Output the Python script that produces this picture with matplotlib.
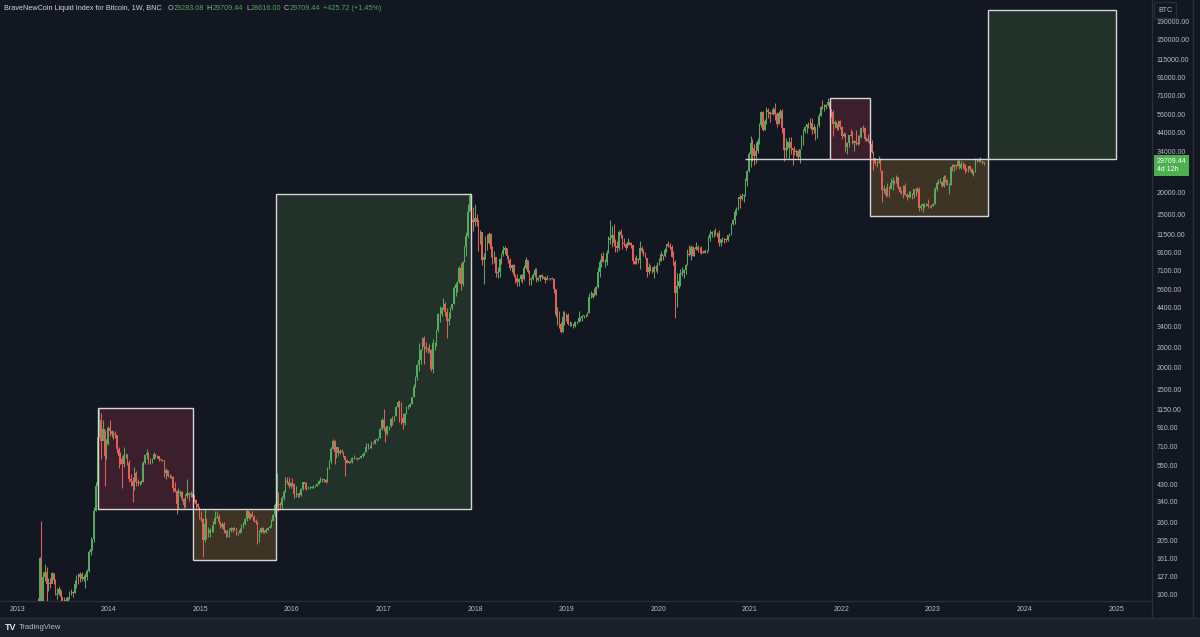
import numpy as np
import pandas as pd
import matplotlib
matplotlib.use('Agg')
import matplotlib.pyplot as plt
import matplotlib.dates as mdates
import matplotlib.transforms as mtransforms
from matplotlib.patches import Rectangle
from matplotlib.lines import Line2D
from matplotlib.ticker import NullLocator, NullFormatter

plt.rcParams['font.family'] = ['Liberation Sans', 'DejaVu Sans']

# weekly candles (close, high, low), one bar per week starting on Monday
open_first = 72

start2013 = '2013-03-25'
c2013 = [93, 162, 90, 127, 135, 115, 117, 115, 133, 122, 100, 101, 108, 97, 77, 94, 91, 97, 104, 104, 102,
         116, 129, 127, 132, 124, 126, 126, 137, 175, 182, 208, 300, 420, 800, 1000, 760, 890, 620, 730, 900]
h2013 = [96, 165, 266, 135, 150, 145, 125, 125, 135, 133, 123, 110, 112, 107, 97, 98, 98, 98, 106, 108, 106,
         122, 130, 133, 135, 135, 130, 134, 140, 180, 215, 210, 320, 440, 900, 1163, 1100, 1000, 880, 780, 920]
l2013 = [70, 93, 62, 68, 120, 85, 105, 110, 118, 115, 100, 95, 100, 90, 70, 66, 88, 88, 95, 100, 98,
         102, 110, 115, 118, 120, 120, 110, 122, 135, 170, 180, 200, 300, 420, 800, 600, 780, 420, 600, 720]

start2014 = '2014-01-06'
c2014 = [870, 830, 830, 820, 680, 620, 600, 560, 630, 630, 565, 460, 450, 420, 500, 440, 435, 440, 445, 570,
         630, 650, 590, 595, 600, 635, 620, 625, 595, 590, 590, 500, 515, 480, 480, 475, 410, 395, 330, 385,
         390, 355, 325, 370, 385, 375, 378, 375, 350, 330, 320, 275]
h2014 = [1000, 880, 870, 870, 820, 700, 660, 620, 700, 650, 640, 590, 490, 470, 540, 510, 460, 450, 455, 580,
         630, 680, 660, 610, 610, 655, 640, 630, 625, 600, 600, 590, 530, 520, 490, 485, 480, 440, 400, 410,
         400, 395, 360, 380, 460, 390, 395, 385, 360, 355, 335, 320]
l2014 = [810, 800, 780, 790, 650, 530, 560, 410, 540, 610, 550, 440, 420, 340, 400, 420, 420, 425, 430, 440,
         560, 600, 560, 560, 570, 600, 610, 610, 580, 580, 580, 470, 460, 470, 465, 465, 390, 390, 290, 310,
         370, 345, 315, 320, 360, 345, 365, 365, 340, 310, 315, 270]

start2015 = '2015-01-05'
c2015 = [270, 205, 255, 225, 225, 235, 235, 255, 275, 280, 260, 245, 255, 235, 225, 225, 235, 240, 235, 240,
         225, 225, 235, 245, 255, 270, 300, 275, 290, 280, 265, 260, 230, 230, 240, 230, 230, 235, 240, 245,
         265, 285, 325, 375, 330, 325, 360, 390, 450, 440, 420, 435]
h2015 = [300, 275, 310, 275, 245, 240, 250, 265, 300, 300, 290, 260, 260, 260, 235, 235, 240, 245, 245, 245,
         240, 230, 240, 255, 260, 275, 310, 300, 295, 300, 285, 270, 265, 235, 245, 245, 235, 240, 245, 250,
         270, 290, 335, 500, 390, 340, 370, 400, 470, 470, 470, 440]
l2015 = [265, 165, 200, 210, 215, 215, 230, 230, 255, 275, 255, 240, 240, 225, 215, 215, 215, 230, 230, 235,
         220, 220, 225, 230, 240, 250, 265, 270, 270, 280, 260, 255, 195, 200, 225, 225, 225, 225, 235, 240,
         245, 265, 280, 320, 300, 310, 315, 350, 390, 430, 410, 410]

start2016 = '2016-01-04'
c2016 = [430, 380, 380, 375, 375, 405, 440, 430, 410, 410, 410, 415, 420, 420, 430, 450, 450, 460, 455, 445,
         530, 585, 680, 760, 655, 700, 650, 665, 655, 625, 590, 570, 580, 575, 610, 610, 605, 600, 610, 620,
         640, 655, 700, 705, 700, 740, 735, 765, 775, 790, 890, 1000]
h2016 = [465, 435, 420, 385, 390, 410, 445, 440, 440, 420, 420, 420, 425, 425, 435, 455, 470, 465, 460, 460,
         540, 590, 700, 780, 770, 705, 705, 680, 680, 660, 625, 600, 585, 585, 615, 630, 615, 610, 615, 625,
         645, 660, 740, 740, 720, 755, 745, 775, 780, 795, 900, 1030]
l2016 = [420, 360, 365, 365, 365, 370, 400, 405, 400, 405, 405, 410, 410, 415, 420, 430, 440, 440, 445, 435,
         440, 525, 570, 680, 560, 610, 620, 640, 645, 615, 480, 565, 565, 565, 570, 600, 600, 590, 595, 605,
         615, 630, 655, 680, 695, 695, 725, 725, 755, 770, 790, 880]

start2017 = '2017-01-02'
c2017 = [905, 830, 920, 920, 1010, 1000, 1050, 1190, 1270, 1230, 1020, 960, 1080, 1180, 1180, 1240, 1350,
         1550, 1760, 2050, 2200, 2500, 2950, 2600, 2550, 2500, 2500, 1950, 2750, 2750, 3250, 4050, 4050, 4350,
         4580, 4120, 3680, 3790, 4380, 4600, 5670, 6000, 6150, 7400, 5950, 8000, 9700, 11300, 15500, 19000,
         13800, 13500]
h2017 = [1150, 910, 925, 925, 1020, 1060, 1055, 1200, 1290, 1300, 1260, 1100, 1100, 1200, 1210, 1250, 1355,
         1600, 1780, 2100, 2750, 2550, 2980, 3000, 2780, 2600, 2700, 2540, 2920, 2800, 3300, 4100, 4480, 4400,
         4950, 4700, 4350, 4120, 4400, 4620, 5850, 6150, 6200, 7600, 7900, 8100, 9800, 11800, 17200, 19700,
         19200, 16500]
l2017 = [870, 750, 820, 880, 915, 940, 990, 1050, 1180, 980, 950, 890, 930, 1080, 1150, 1180, 1240,
         1350, 1550, 1700, 1900, 2100, 2500, 2100, 2450, 2400, 2450, 1900, 1850, 2500, 2650, 3200, 3650, 3950,
         4300, 3950, 2950, 3500, 3830, 4250, 4600, 5100, 5400, 6100, 5500, 5850, 7950, 8700, 11000, 15800,
         11000, 12000]

start2018 = '2018-01-01'
c2018 = [14200, 13600, 11500, 11800, 8200, 8500, 11100, 10300, 11500, 9500, 8200, 8500, 6900, 7000, 8300,
         8900, 9400, 9600, 8700, 8200, 7400, 7700, 6750, 6450, 6150, 6350, 6750, 6350, 7400, 8200, 7000, 6300,
         6400, 6700, 7200, 6300, 6500, 6700, 6600, 6600, 6300, 6450, 6450, 6450, 6400, 5600, 4000, 4050, 3550,
         3200, 3900, 3850, 4000]
h2018 = [17200, 15000, 14100, 12200, 11800, 9000, 11300, 11600, 11800, 11700, 9800, 9200, 8500, 7500, 8400,
         9000, 9800, 9900, 9600, 8800, 8400, 7800, 7800, 6850, 6800, 6500, 6850, 6800, 7700, 8500, 8200, 7150,
         6600, 6900, 7400, 7400, 6600, 6700, 6800, 6650, 6650, 6700, 6500, 6500, 6600, 6450, 5600, 4400, 4200,
         3650, 4200, 4200, 4100]
l2018 = [12800, 12800, 9200, 10100, 7700, 6000, 8300, 9300, 10100, 8500, 7800, 7900, 6600, 6500, 6600,
         7800, 8600, 8900, 8300, 7900, 7200, 7050, 6600, 6100, 5800, 5800, 6250, 6080, 6300, 7300, 6900, 5900,
         5900, 6300, 6600, 6150, 6200, 6250, 6400, 6500, 6100, 6300, 6400, 6300, 6350, 5300, 3900, 3500, 3350,
         3150, 3200, 3500, 3700]

start2019 = '2019-01-07'
c2019 = [3550, 3550, 3550, 3450, 3650, 3650, 3850, 3850, 3950, 4000, 3980, 4100, 5050, 5050, 5300, 5200,
         5750, 7000, 8000, 8700, 8000, 8000, 8950, 10700, 11000, 11450, 10200, 9800, 9550, 11800, 11350, 10200,
         10100, 9650, 10400, 10300, 10000, 8050, 7800, 8300, 8200, 9550, 9200, 8800, 8450, 7050, 7500, 7400,
         7050, 7500, 7400, 7750]
h2019 = [4100, 3700, 3650, 3550, 3700, 3700, 4200, 3900, 4000, 4000, 4050, 4150, 5300, 5450, 5350, 5650,
         5800, 7500, 8300, 8950, 9100, 8300, 9350, 11300, 13800, 12900, 13150, 10800, 10600, 12100, 12300, 11450,
         10950, 10300, 10950, 10450, 10350, 10050, 8550, 8750, 8400, 10500, 9900, 9500, 9100, 8450, 7900, 7650,
         7450, 7700, 7650, 8000]
l2019 = [3500, 3450, 3450, 3350, 3400, 3550, 3650, 3700, 3700, 3850, 3900, 3950, 4100, 4950, 5000, 5100,
         5200, 5700, 6600, 7500, 8000, 7450, 7700, 8950, 10100, 9750, 9900, 9100, 9150, 9400, 11000, 9500,
         9800, 9350, 10000, 9950, 9650, 7750, 7750, 7800, 7900, 7300, 8950, 8700, 8400, 6550, 6850, 7100,
         6950, 6450, 7100, 6900]

start2020 = '2020-01-06'
c2020 = [8150, 8900, 8600, 9350, 10100, 9900, 9700, 8550, 7950, 5350, 5850, 6250, 6850, 6900, 7150, 7700,
         8900, 8750, 9700, 8700, 9450, 9700, 9350, 9300, 9100, 9050, 9250, 9200, 11000, 11600, 11900, 11900,
         11700, 11700, 10250, 10800, 10900, 10750, 10650, 11350, 11500, 13100, 13800, 15500, 16100, 18700,
         18200, 19150, 19300, 23200, 26450, 33100]
h2020 = [8450, 9200, 8750, 9550, 10150, 10500, 10250, 9950, 9200, 8200, 6950, 6950, 7250, 7450, 7300, 7800,
         9450, 10050, 9950, 9850, 9600, 10400, 9950, 9750, 9800, 9350, 9450, 9300, 11200, 12100, 12000, 12100,
         12450, 11800, 12100, 10800, 11150, 10950, 10900, 11450, 11750, 13350, 14100, 15950, 16500, 18800,
         19450, 19900, 19600, 24200, 26800, 34000]
l2020 = [7650, 8100, 8250, 8550, 9150, 9700, 9450, 8500, 7650, 3850, 4450, 5700, 5850, 6650, 6500, 6800,
         7650, 8700, 8250, 8650, 8650, 9350, 9100, 9000, 8850, 8950, 9050, 9050, 9200, 10600, 11100, 11100,
         11400, 11100, 9900, 9900, 10350, 10200, 10400, 10550, 11250, 11400, 12950, 13200, 14900, 15850,
         16200, 18100, 17600, 19000, 21800, 26100]

start2021 = '2021-01-04'
c2021 = [38200, 36000, 32300, 34300, 39200, 48600, 57500, 45200, 51000, 59000, 57400, 55800, 57000, 59800,
         56200, 49000, 56600, 58300, 46400, 34700, 35700, 35800, 39000, 35600, 34700, 34200, 34300, 31800,
         35400, 39800, 44700, 47100, 49400, 48900, 49900, 45200, 47300, 43200, 48200, 54700, 61500, 61000,
         61300, 63300, 65500, 59700, 57300, 49400, 50100, 46700, 50800, 47300]
h2021 = [42000, 40100, 37800, 38500, 40900, 49700, 58350, 58000, 52600, 61700, 61000, 58400, 60200, 61200,
         64800, 57500, 58500, 59500, 59600, 46000, 40900, 39500, 41300, 41300, 35700, 36700, 35200, 34700,
         35500, 42600, 46200, 48000, 49400, 50500, 52900, 52900, 48800, 47300, 49200, 56500, 62000, 67000,
         63700, 64300, 69000, 66300, 59500, 59000, 51900, 49500, 52100, 52000]
l2021 = [28000, 30300, 28800, 29300, 33400, 37950, 47000, 44900, 45100, 49300, 53300, 50400, 55700, 55500,
         52000, 47000, 48800, 52900, 43800, 30000, 31200, 34800, 31000, 33300, 28800, 32700, 32200, 31100,
         29300, 35200, 37300, 43800, 43900, 46300, 46600, 42800, 43400, 39600, 40800, 46900, 54300, 59700,
         58000, 59500, 62300, 55600, 53500, 42000, 46800, 45500, 45600, 45700]

start2022 = '2022-01-03'
c2022 = [41800, 43100, 36300, 38200, 42400, 42100, 38400, 39100, 38000, 37800, 41300, 46800, 46400, 40400,
         40400, 39500, 37600, 34100, 31300, 29500, 29400, 29900, 26600, 20600, 21000, 19300, 21000, 20800,
         22600, 23300, 23200, 24300, 21500, 20000, 19800, 21800, 19400, 18800, 19300, 19400, 19200, 20800,
         20600, 21000, 16300, 16600, 17100, 17100, 17100, 16800, 16800, 16600]
h2022 = [47600, 44400, 43500, 38900, 42600, 45800, 44800, 39800, 45400, 42600, 42300, 46900, 48200, 47100,
         41500, 43000, 40800, 40000, 34300, 31400, 30600, 32200, 31500, 26800, 21900, 21500, 22500, 21600,
         24200, 24500, 23600, 25200, 24400, 21800, 20500, 21900, 22600, 19700, 20300, 20400, 19700, 20800,
         21100, 21500, 21400, 17100, 17300, 17400, 17400, 18400, 17000, 16900]
l2022 = [40500, 41300, 34100, 32900, 36300, 41700, 37900, 34300, 37200, 37200, 37600, 40600, 44300, 39200,
         39200, 38500, 37600, 33700, 26700, 28700, 28000, 29300, 26500, 17600, 19700, 18700, 19000, 18900,
         20800, 20700, 22400, 22700, 20800, 19700, 19600, 18600, 19300, 18100, 18500, 18900, 18200, 18600,
         19100, 20000, 15600, 15800, 15500, 16200, 16700, 16300, 16400, 16300]

start2023 = '2023-01-02'
c2023 = [17100, 20900, 22700, 23000, 23000, 21800, 24300, 23500, 22000, 22100, 28000, 27900, 28500, 28300,
         30300, 27600, 29200, 28900, 26900, 26700, 28100, 27100, 25800, 26300, 30500, 30600, 30200, 30300,
         29283.08, 29709.44]
h2023 = [17400, 21300, 23300, 23900, 24200, 23200, 25200, 25100, 23900, 22600, 28400, 28900, 29200, 28800,
         31000, 30500, 30000, 29800, 29000, 27500, 28300, 28400, 27400, 26800, 31400, 31300, 31400, 31800,
         30400, 29709.44]
l2023 = [16600, 17200, 20400, 22300, 22700, 21400, 21500, 22900, 21900, 19600, 21900, 26600, 26500, 27300,
         28200, 27100, 27000, 27700, 25800, 26300, 26100, 26600, 25400, 24800, 26200, 29600, 29700, 29900,
         29100, 28616.00]

# header readout of the last bar
hdr_change = 425.72
hdr_pct = 1.45
time_left = '4d 12h'

# drawn boxes: start, end, low, high, kind
boxes = [
    ('2013-11-19', '2014-12-03', 309, 1170, 'red'),
    ('2014-12-03', '2015-11-01', 158.5, 309, 'orange'),
    ('2015-11-01', '2017-12-15', 309, 19500, 'green'),
    ('2021-11-16', '2022-04-24', 31000, 68900, 'red'),
    ('2022-04-24', '2023-08-07', 14600, 31000, 'orange'),
    ('2023-08-07', '2025-01-01', 31000, 220000, 'green'),
]
level_line = ('2020-12-13', '2021-11-16', 31000)

price_ticks = [190000, 150000, 115000, 91000, 71000, 56000, 44000, 34000, 20000, 15000, 11500, 9100, 7100,
               5600, 4400, 3400, 2600, 2000, 1500, 1150, 910, 710, 550, 430, 340, 260, 205, 161, 127, 100]
years = list(range(2013, 2026))

bg = '#131722'
up_col = '#58a85e'
down_col = '#e0605a'
txt_col = '#b8bbc4'
line_col = '#2a2e39'
fills = {'red': '#3b1f2c', 'orange': '#3e3426', 'green': '#22322a'}

# assemble candles
dates, closes, highs, lows = [], [], [], []
for start, c, h, l in [(start2013, c2013, h2013, l2013), (start2014, c2014, h2014, l2014),
                       (start2015, c2015, h2015, l2015), (start2016, c2016, h2016, l2016),
                       (start2017, c2017, h2017, l2017), (start2018, c2018, h2018, l2018),
                       (start2019, c2019, h2019, l2019), (start2020, c2020, h2020, l2020),
                       (start2021, c2021, h2021, l2021), (start2022, c2022, h2022, l2022),
                       (start2023, c2023, h2023, l2023)]:
    assert len(c) == len(h) == len(l), start
    dates += list(pd.date_range(start, periods=len(c), freq='7D'))
    closes += c
    highs += h
    lows += l
x = mdates.date2num(dates)
closes = np.array(closes, float)
highs = np.array(highs, float)
lows = np.array(lows, float)
opens = np.r_[open_first, closes[:-1]]
cols = np.where(closes >= opens, up_col, down_col)

W, H = 1200, 637
fig = plt.figure(figsize=(12, 6.37), dpi=100, facecolor=bg)
ax = fig.add_axes([0, 1 - 601 / H, 1152 / W, 601 / H])
ax.set_facecolor(bg)
ax.set_yscale('log')
ax.set_ylim(92.4, 251000)
ax.set_xlim(mdates.date2num(pd.Timestamp('2012-10-25')), mdates.date2num(pd.Timestamp('2025-05-24')))

for s, e, lo, hi, kind in boxes:
    x0 = mdates.date2num(pd.Timestamp(s))
    w = mdates.date2num(pd.Timestamp(e)) - x0
    ax.add_patch(Rectangle((x0, lo), w, hi - lo, fc=fills[kind], ec='none', zorder=1))
    ax.add_patch(Rectangle((x0, lo), w, hi - lo, fill=False, ec='#d6d6d6', lw=1.0, zorder=5))
ax.hlines(level_line[2], mdates.date2num(pd.Timestamp(level_line[0])),
          mdates.date2num(pd.Timestamp(level_line[1])), color='#d6d6d6', lw=1.0, zorder=5)

# candles
ax.vlines(x, lows, highs, colors=cols, lw=0.75, zorder=3)
ax.bar(x, np.abs(closes - opens), bottom=np.minimum(opens, closes), width=5.5, color=cols, lw=0, zorder=4)

# axes styling
for sp in ['top', 'left']:
    ax.spines[sp].set_visible(False)
for sp in ['right', 'bottom']:
    ax.spines[sp].set_color(line_col)
    ax.spines[sp].set_linewidth(1)
ax.yaxis.tick_right()
ax.set_yticks(price_ticks)
ax.set_yticklabels([f'{v:.2f}' for v in price_ticks])
ax.yaxis.set_minor_locator(NullLocator())
ax.yaxis.set_minor_formatter(NullFormatter())
ax.set_xticks([mdates.date2num(pd.Timestamp(f'{y}-01-01')) for y in years])
ax.set_xticklabels([str(y) for y in years])
ax.tick_params(axis='y', length=0, pad=3.5, labelsize=5, labelcolor=txt_col)
ax.tick_params(axis='x', length=0, pad=3.5, labelsize=5, labelcolor=txt_col)

# frame lines and bottom bar
fig.add_artist(Rectangle((0, 0), 1, 19 / H, transform=fig.transFigure, fc='#1b1f2a', ec='none'))
fig.add_artist(Line2D([0, 1], [19 / H, 19 / H], color=line_col, lw=1))
fig.add_artist(Line2D([1152 / W, 1152 / W], [19 / H, 1 - 601 / H], color=line_col, lw=1))
fig.add_artist(Line2D([1193 / W, 1193 / W], [19 / H, 1], color=line_col, lw=1))
fig.text(5 / W, 9.5 / H, 'TV', fontsize=6.5, fontweight='bold', color='#e0e3eb', va='center', ha='left')
fig.text(19 / W, 9.5 / H, 'TradingView', fontsize=5.5, color=txt_col, va='center', ha='left')

# BTC unit label
fig.text(1158 / W, 1 - 10 / H, 'BTC', fontsize=5, color=txt_col, va='center', ha='left',
         bbox=dict(boxstyle='square,pad=0.6', fc=bg, ec=line_col, lw=0.8))

# last price tag
trans = mtransforms.blended_transform_factory(ax.transAxes, ax.transData)
ax.annotate(f'{closes[-1]:.2f}\n{time_left}', xy=(1, closes[-1]), xycoords=trans, xytext=(3.5, 3.2),
            textcoords='offset points', ha='left', va='top', fontsize=5, color='white', linespacing=1.3,
            bbox=dict(boxstyle='square,pad=0.35', fc='#4caf50', ec='none'), annotation_clip=False, zorder=10)

# header line
green_txt = '#52a35a'
t = fig.text(4 / W, 1 - 8.5 / H, 'BraveNewCoin Liquid Index for Bitcoin, 1W, BNC', fontsize=5.2,
             color='#d1d4dc', va='center', ha='left')
last_o, last_h, last_l, last_c = opens[-1], highs[-1], lows[-1], closes[-1]
parts = [('O', txt_col, 4), (f'{last_o:.2f}', green_txt, 0.5), ('H', txt_col, 2), (f'{last_h:.2f}', green_txt, 0.5),
         ('L', txt_col, 2), (f'{last_l:.2f}', green_txt, 0.5), ('C', txt_col, 2), (f'{last_c:.2f}', green_txt, 0.5),
         (f'+{hdr_change:.2f} (+{hdr_pct:.2f}%)', green_txt, 2)]
prev = t
for s, col, gap in parts:
    prev = ax.annotate(s, xy=(1, 0.5), xycoords=prev, xytext=(gap, 0), textcoords='offset points',
                       va='center', ha='left', fontsize=5.2, color=col, annotation_clip=False)

fig.savefig('out.png', dpi=100, facecolor=bg)
